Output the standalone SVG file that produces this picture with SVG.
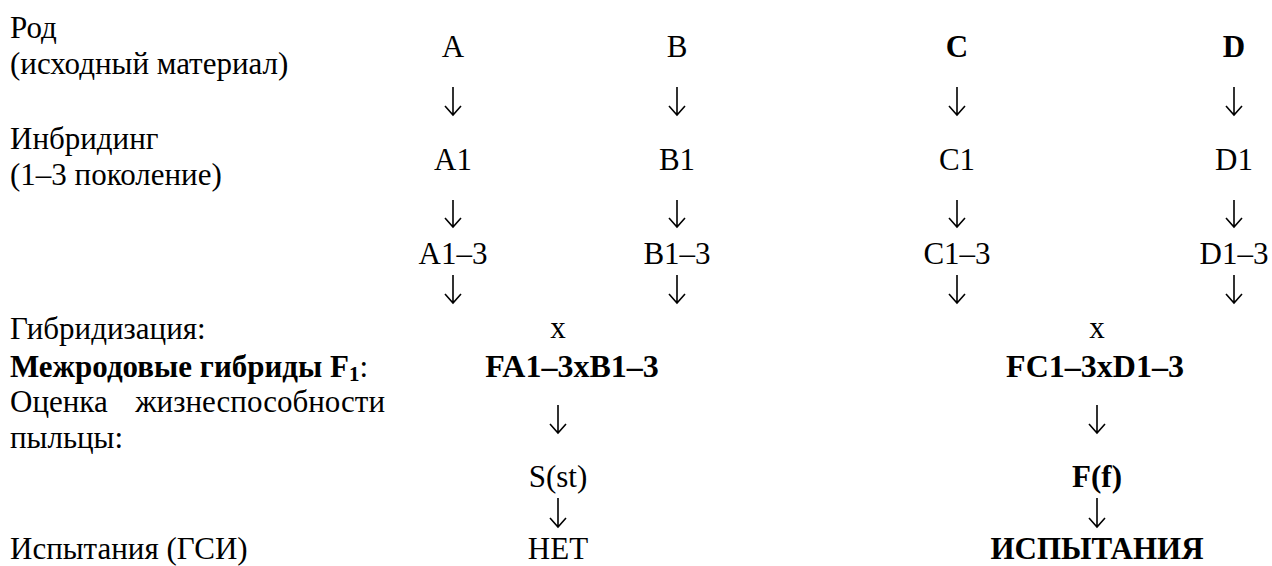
<svg xmlns="http://www.w3.org/2000/svg" width="1272" height="566" viewBox="0 0 1272 566">
<rect width="1272" height="566" fill="#fff"/>
<g id="labels">
<text font-family="Liberation Serif" font-size="31" x="10" y="38">Род</text>
<text font-family="Liberation Serif" font-size="31" x="10" y="74">(исходный материал)</text>
<text font-family="Liberation Serif" font-size="31" x="10" y="149">Инбридинг</text>
<text font-family="Liberation Serif" font-size="31" x="10" y="185">(1–3 поколение)</text>
<text font-family="Liberation Serif" font-size="31" x="10" y="339">Гибридизация:</text>
<text font-family="Liberation Serif" font-size="31" x="10" y="377"><tspan font-weight="bold">Межродовые гибриды F<tspan font-size="21" dy="4">1</tspan></tspan><tspan dy="-4">:</tspan></text>
<text font-family="Liberation Serif" font-size="31" x="10" y="412">Оценка</text>
<text font-family="Liberation Serif" font-size="31" x="385" y="412" text-anchor="end">жизнеспособности</text>
<text font-family="Liberation Serif" font-size="31" x="10" y="448">пыльцы:</text>
<text font-family="Liberation Serif" font-size="31" x="10" y="559">Испытания (ГСИ)</text>
</g>
<g id="col-A">
<text font-family="Liberation Serif" font-size="31" text-anchor="middle" x="453" y="57">A</text>
<text font-family="Liberation Serif" font-size="31" text-anchor="middle" x="453" y="170">A1</text>
<text font-family="Liberation Serif" font-size="31" text-anchor="middle" x="453" y="264">A1–3</text>
</g>
<g id="col-B">
<text font-family="Liberation Serif" font-size="31" text-anchor="middle" x="677" y="57">B</text>
<text font-family="Liberation Serif" font-size="31" text-anchor="middle" x="677" y="170">B1</text>
<text font-family="Liberation Serif" font-size="31" text-anchor="middle" x="677" y="264">B1–3</text>
</g>
<g id="col-C">
<text font-family="Liberation Serif" font-size="31" text-anchor="middle" font-weight="bold" x="957" y="57">C</text>
<text font-family="Liberation Serif" font-size="31" text-anchor="middle" x="957" y="170">C1</text>
<text font-family="Liberation Serif" font-size="31" text-anchor="middle" x="957" y="264">C1–3</text>
</g>
<g id="col-D">
<text font-family="Liberation Serif" font-size="31" text-anchor="middle" font-weight="bold" x="1234" y="57">D</text>
<text font-family="Liberation Serif" font-size="31" text-anchor="middle" x="1234" y="170">D1</text>
<text font-family="Liberation Serif" font-size="31" text-anchor="middle" x="1234" y="264">D1–3</text>
</g>
<g id="hybrid-AB">
<text font-family="Liberation Serif" font-size="31" text-anchor="middle" x="558" y="338">x</text>
<text font-family="Liberation Serif" font-size="32" text-anchor="middle" font-weight="bold" x="572" y="377">FA1–3xB1–3</text>
<text font-family="Liberation Serif" font-size="31" text-anchor="middle" x="558" y="487">S(st)</text>
<text font-family="Liberation Serif" font-size="31" text-anchor="middle" x="558" y="559">НЕТ</text>
</g>
<g id="hybrid-CD">
<text font-family="Liberation Serif" font-size="31" text-anchor="middle" x="1097" y="338">x</text>
<text font-family="Liberation Serif" font-size="32" text-anchor="middle" font-weight="bold" x="1095" y="377">FC1–3xD1–3</text>
<text font-family="Liberation Serif" font-size="31" text-anchor="middle" font-weight="bold" x="1097" y="487">F(f)</text>
<text font-family="Liberation Serif" font-size="31" text-anchor="middle" font-weight="bold" x="1097" y="559">ИСПЫТАНИЯ</text>
</g>
<g id="connectors" fill="none" stroke="#000" stroke-width="1.6">
<path d="M453 87V115M445 106L453 115L461 106"/>
<path d="M677 87V115M669 106L677 115L685 106"/>
<path d="M957 87V115M949 106L957 115L965 106"/>
<path d="M1234 87V115M1226 106L1234 115L1242 106"/>
<path d="M453 200V227M445 218L453 227L461 218"/>
<path d="M677 200V227M669 218L677 227L685 218"/>
<path d="M957 200V227M949 218L957 227L965 218"/>
<path d="M1234 200V227M1226 218L1234 227L1242 218"/>
<path d="M453 275V303M445 294L453 303L461 294"/>
<path d="M677 275V303M669 294L677 303L685 294"/>
<path d="M957 275V303M949 294L957 303L965 294"/>
<path d="M1234 275V303M1226 294L1234 303L1242 294"/>
<path d="M558 405V433M550 424L558 433L566 424"/>
<path d="M1097 405V433M1089 424L1097 433L1105 424"/>
<path d="M558 498V527M550 518L558 527L566 518"/>
<path d="M1097 498V527M1089 518L1097 527L1105 518"/>
</g>
</svg>
